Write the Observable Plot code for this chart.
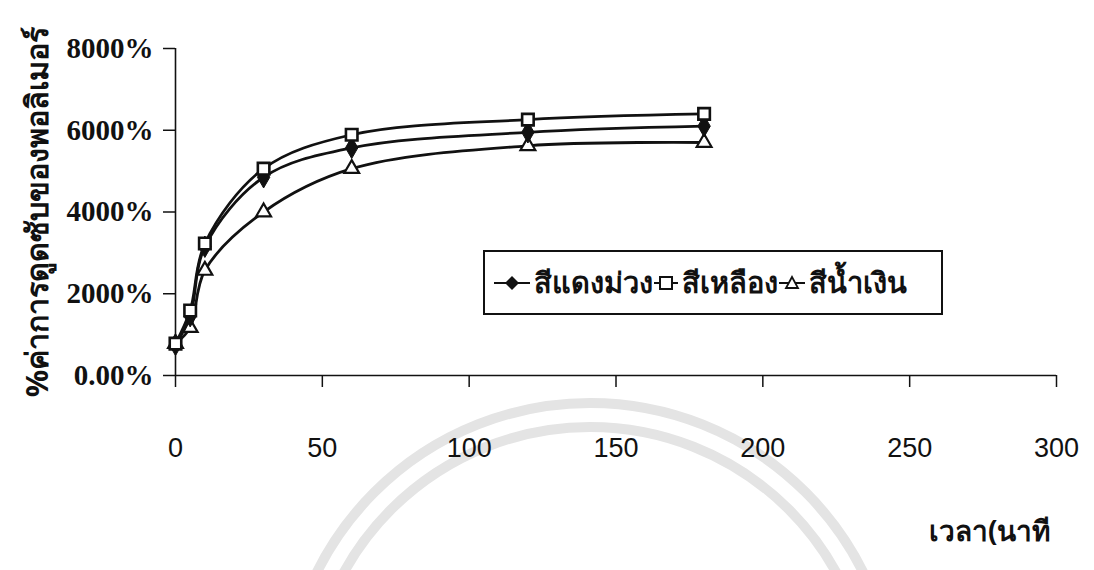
<!DOCTYPE html>
<html>
<head>
<meta charset="utf-8">
<script src="https://cdn.jsdelivr.net/npm/d3@7"></script>
<script src="https://cdn.jsdelivr.net/npm/@observablehq/plot@0.6"></script>
<style>
  html, body { margin: 0; padding: 0; background: #fff; }
  #wrap { position: relative; width: 1094px; height: 570px; overflow: hidden; background: #fff; }
  #watermark { position: absolute; left: 0; top: 0; z-index: 0; }
  #legend {
    position: absolute; left: 483px; top: 250px; width: 456px; height: 61px; z-index: 2;
    border: 2px solid #111; box-sizing: content-box; overflow: hidden; background: #fff;
    display: flex; align-items: center; white-space: nowrap;
    font-family: "Noto Sans", "DejaVu Sans", sans-serif; font-weight: bold; font-size: 29px; color: #111;
  }
  #legend .item { display: inline-flex; align-items: center; }
  #legend svg { display: block; }
</style>
</head>
<body>
<div id="wrap">
  <!-- faint emblem printed behind the page -->
  <svg id="watermark" width="1094" height="570">
    <g fill="none" stroke="#e4e4e4" stroke-width="10">
      <circle cx="590" cy="708" r="305"/>
      <circle cx="590" cy="708" r="281"/>
    </g>
  </svg>
</div>
<script>
// Soaking time (minutes)
const times = [0, 5, 10, 30, 60, 120, 180];
// Polymer absorption (%) for each dye colour
const purple = [7.5, 14.5, 31.5, 48.5, 55.7, 59.5, 61.0];
const yellow = [7.8, 15.9, 32.3, 50.6, 58.9, 62.6, 64.0];
const blue   = [7.8, 11.7, 25.7, 40.0, 50.6, 56.2, 57.0];

const seriesNames = ["สีแดงม่วง", "สีเหลือง", "สีน้ำเงิน"];

const xTicks = [0, 50, 100, 150, 200, 250, 300];
const yTicks = [0, 20, 40, 60, 80];
const yTickLabels = ["0.00%", "2000%", "4000%", "6000%", "8000%"];

const yTitle = "%ค่าการดูดซับของพอลิเมอร์";
const xTitle = "เวลา(นาที";

const toRows = (vals, name) => times.map((t, i) => ({ t, v: vals[i], name }));
const rowsPurple = toRows(purple, seriesNames[0]);
const rowsYellow = toRows(yellow, seriesNames[1]);
const rowsBlue = toRows(blue, seriesNames[2]);

const lineOpts = { x: "t", y: "v", curve: "catmull-rom", stroke: "#111", strokeWidth: 2.8 };

const chart = Plot.plot({
  width: 1094,
  height: 570,
  marginLeft: 175,
  marginRight: 38,
  marginTop: 48,
  marginBottom: 195,
  style: { background: "transparent", color: "#111", overflow: "visible" },
  x: { domain: [0, 300] },
  y: { domain: [0, 80] },
  marks: [
    Plot.axisX({
      ticks: xTicks, tickSize: 12, tickPadding: 50, strokeWidth: 1.5,
      fontSize: 27, fontFamily: "Liberation Sans, Arial, sans-serif", label: null
    }),
    Plot.axisY({
      ticks: yTicks, tickSize: 12, tickPadding: 10, strokeWidth: 1.5,
      tickFormat: d => yTickLabels[yTicks.indexOf(d)],
      fontSize: 29, fontWeight: "bold", fontFamily: "Liberation Serif, Times New Roman, serif", label: null
    }),
    Plot.ruleY([0], { stroke: "#111", strokeWidth: 1.6 }),
    Plot.ruleX([0], { stroke: "#111", strokeWidth: 1.6 }),
    Plot.text([yTitle], {
      frameAnchor: "left", textAnchor: "middle", dx: -137, rotate: -90,
      fontSize: 30.5, fontWeight: "bold", fontFamily: "Noto Sans, DejaVu Sans, sans-serif", fill: "#111"
    }),
    Plot.text([xTitle], {
      frameAnchor: "bottom-right", textAnchor: "end", dx: -6, dy: 165,
      fontSize: 28, fontWeight: "bold", fontFamily: "Noto Sans, DejaVu Sans, sans-serif", fill: "#111"
    }),
    // blue (triangles)
    Plot.line(rowsBlue, lineOpts),
    Plot.dot(rowsBlue, { x: "t", y: "v", symbol: "triangle", r: 5.5, fill: "#fff", stroke: "#111", strokeWidth: 2.2 }),
    // purple (diamonds)
    Plot.line(rowsPurple, lineOpts),
    Plot.dot(rowsPurple, { x: "t", y: "v", symbol: "diamond", r: 6.5, fill: "#111", stroke: "#111", strokeWidth: 1 }),
    // yellow (squares)
    Plot.line(rowsYellow, lineOpts),
    Plot.dot(rowsYellow, { x: "t", y: "v", symbol: "square", r: 6.5, fill: "#fff", stroke: "#111", strokeWidth: 2.6 })
  ]
});

const wrap = document.getElementById("wrap");
chart.style.position = "absolute";
chart.style.left = "0px";
chart.style.top = "0px";
chart.style.zIndex = "1";
wrap.appendChild(chart);

// Legend: line + marker swatch followed by the series name
const legend = document.createElement("div");
legend.id = "legend";
const swatch = (kind, w) => {
  const c = w / 2;
  let marker;
  if (kind === 0) marker = `<path d="M${c},4 L${c + 7},11 L${c},18 L${c - 7},11 Z" fill="#111"/>`;
  else if (kind === 1) marker = `<rect x="${c - 6}" y="5" width="12" height="12" fill="#fff" stroke="#111" stroke-width="2"/>`;
  else marker = `<path d="M${c},5 L${c + 6},16 L${c - 6},16 Z" fill="#fff" stroke="#111" stroke-width="1.8"/>`;
  return `<svg width="${w}" height="22" viewBox="0 0 ${w} 22"><line x1="1" y1="11" x2="${w - 1}" y2="11" stroke="#111" stroke-width="2"/>${marker}</svg>`;
};
const swatchW = [38, 26, 28];
legend.innerHTML = seriesNames.map((n, i) =>
  `<span class="item" style="margin-left:${i === 0 ? 8 : 0}px">${swatch(i, swatchW[i])}<span style="margin-left:3px">${n}</span></span>`
).join("");
wrap.appendChild(legend);
</script>
</body>
</html>
